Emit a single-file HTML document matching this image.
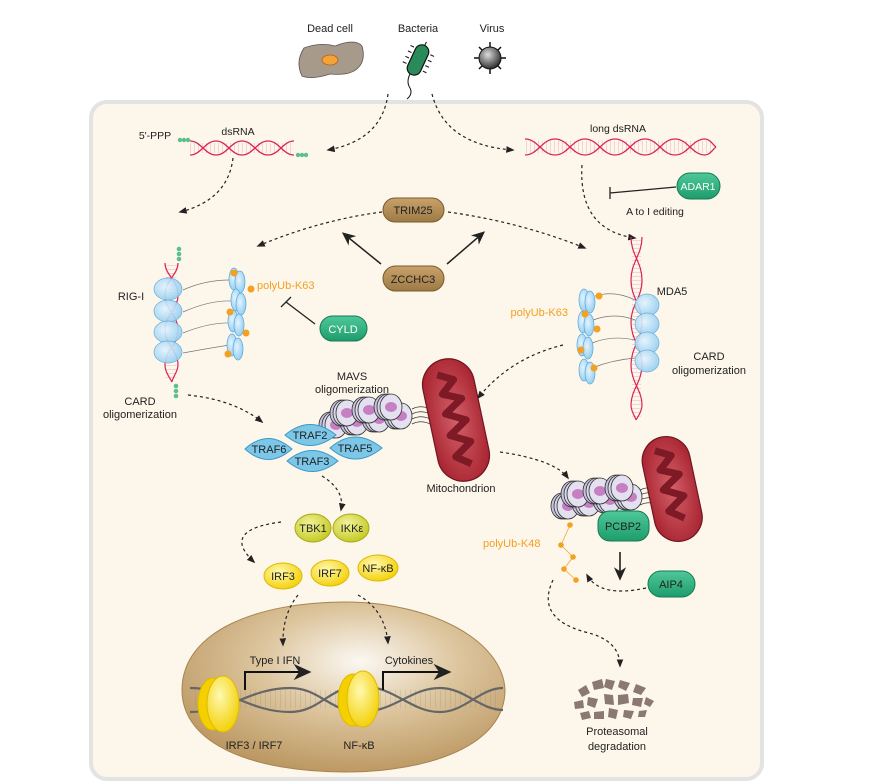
<!DOCTYPE html>
<html><head><meta charset="utf-8"><style>
html,body{margin:0;padding:0;background:#fff}
svg{display:block;font-family:"Liberation Sans",Arial,sans-serif}
</style></head><body>
<svg width="878" height="782" viewBox="0 0 878 782" xmlns="http://www.w3.org/2000/svg">
<defs>
<marker id="ah" viewBox="0 0 10 10" refX="8" refY="5" markerWidth="7" markerHeight="7" orient="auto"><path d="M0,1 L10,5 L0,9 Z" fill="#222"/></marker>
<marker id="ahb" viewBox="0 0 10 10" refX="8" refY="5" markerWidth="9" markerHeight="9" orient="auto"><path d="M0,0.5 L10,5 L0,9.5 L3,5 Z" fill="#222"/></marker>
<radialGradient id="nuc" cx="0.55" cy="0.35" r="0.7"><stop offset="0" stop-color="#fbf8f2"/><stop offset="0.45" stop-color="#dcc49c"/><stop offset="1" stop-color="#b8935c"/></radialGradient>
<radialGradient id="yel" cx="0.4" cy="0.35" r="0.7"><stop offset="0" stop-color="#fff9b0"/><stop offset="1" stop-color="#f2cf00"/></radialGradient>
<radialGradient id="yg" cx="0.4" cy="0.35" r="0.7"><stop offset="0" stop-color="#f0f39a"/><stop offset="1" stop-color="#c3c820"/></radialGradient>
<radialGradient id="blu" cx="0.4" cy="0.4" r="0.7"><stop offset="0" stop-color="#e3f4ff"/><stop offset="1" stop-color="#8ccaf0"/></radialGradient>
<radialGradient id="mit" cx="0.5" cy="0.5" r="0.6"><stop offset="0" stop-color="#d2606a"/><stop offset="1" stop-color="#a8232f"/></radialGradient>
<radialGradient id="vir" cx="0.4" cy="0.35" r="0.7"><stop offset="0" stop-color="#ddd"/><stop offset="1" stop-color="#222"/></radialGradient>
<linearGradient id="brn" x1="0" y1="0" x2="0" y2="1"><stop offset="0" stop-color="#c9a26a"/><stop offset="1" stop-color="#9d7a45"/></linearGradient>
<linearGradient id="grn" x1="0" y1="0" x2="0" y2="1"><stop offset="0" stop-color="#4fc89a"/><stop offset="1" stop-color="#1e9c6c"/></linearGradient>
<g id="disc"><ellipse cx="0" cy="0" rx="11" ry="13" fill="#c8c3dc" stroke="#333" stroke-width="0.8"/><ellipse cx="3" cy="0" rx="11" ry="13" fill="#d8d4ea" stroke="#333" stroke-width="0.8"/><ellipse cx="6" cy="0" rx="11" ry="13" fill="#e3e0f0" stroke="#333" stroke-width="0.8"/><ellipse cx="6" cy="0" rx="6" ry="5" fill="#c77fc4"/></g>
<g id="bo"><ellipse cx="0" cy="0" rx="5" ry="11" fill="url(#blu)" stroke="#5aa8d8" stroke-width="0.7"/></g>
</defs>

<!-- cell -->
<rect x="91" y="102" width="671" height="677" rx="16" fill="#fdf6ea" stroke="#e3e3e3" stroke-width="4"/>

<!-- top pathogens -->
<text x="330" y="32" font-size="11" text-anchor="middle" fill="#222">Dead cell</text>
<text x="418" y="32" font-size="11" text-anchor="middle" fill="#222">Bacteria</text>
<text x="492" y="32" font-size="11" text-anchor="middle" fill="#222">Virus</text>
<path d="M304,48 Q320,42 335,46 Q355,38 362,46 Q366,60 358,68 Q350,76 330,74 Q312,80 302,76 Q295,62 304,48Z" fill="#a89a8a" stroke="#555" stroke-width="0.8"/>
<ellipse cx="330" cy="60" rx="8" ry="5" fill="#f4a23a" stroke="#b06010" stroke-width="0.8"/>
<g transform="rotate(25 418 60)"><rect x="411" y="44" width="14" height="32" rx="7" fill="#2a8a5a" stroke="#111" stroke-width="1.2"/>
<path d="M409,50h-4M409,56h-4M409,62h-4M409,68h-4M427,50h4M427,56h4M427,62h4M427,68h4M418,44v-4" stroke="#111" stroke-width="1"/></g>
<path d="M410,74 Q406,82 410,88 Q413,94 407,99" fill="none" stroke="#111" stroke-width="1"/>
<g stroke="#111" stroke-width="1.5"><path d="M490,42v32M474,58h32M479,47l22,22M501,47l-22,22"/></g>
<circle cx="490" cy="58" r="11" fill="url(#vir)" stroke="#111"/>

<!-- nucleus (drawn early so arrows overlay) -->
<path d="M182,690 C182,630 260,602 345,602 C430,602 503,640 505,690 C505,745 430,772 345,772 C255,772 182,745 182,690Z" fill="url(#nuc)" stroke="#a88450" stroke-width="1"/>

<!-- dashed arrows -->
<g fill="none" stroke="#222" stroke-width="1.2" stroke-dasharray="3,3">
<path d="M388,94 Q382,140 328,150" marker-end="url(#ah)"/>
<path d="M432,94 Q445,145 513,150" marker-end="url(#ah)"/>
<path d="M233,158 Q228,200 180,212" marker-end="url(#ah)"/>
<path d="M582,165 Q578,230 635,238" marker-end="url(#ah)"/>
<path d="M382,212 Q320,220 258,246" marker-end="url(#ah)"/>
<path d="M448,212 Q520,222 585,248" marker-end="url(#ah)"/>
<path d="M563,345 Q510,358 478,398" marker-end="url(#ah)"/>
<path d="M188,395 Q235,400 262,422" marker-end="url(#ah)"/>
<path d="M322,476 Q345,490 341,510" marker-end="url(#ah)"/>
<path d="M281,522 Q220,530 254,562" marker-end="url(#ah)"/>
<path d="M298,595 Q282,615 283,645" marker-end="url(#ah)"/>
<path d="M358,595 Q385,610 388,643" marker-end="url(#ah)"/>
<path d="M500,452 Q555,460 568,478" marker-end="url(#ah)"/>
<path d="M646,588 Q600,598 587,575" marker-end="url(#ah)"/>
<path d="M553,580 Q535,618 585,632 Q620,640 620,666" marker-end="url(#ah)"/>
</g>

<!-- dsRNA short -->
<text x="155" y="139" font-size="10.5" text-anchor="middle" fill="#222">5'-PPP</text>
<text x="238" y="135" font-size="10.5" text-anchor="middle" fill="#222">dsRNA</text>
<g fill="none" stroke="#d8245a" stroke-width="1.3">
<path d="M190,141 C201,141 205,155 216,155 C227,155 231,141 242,141 C253,141 257,155 268,155 C279,155 283,141 294,141"/>
<path d="M190,155 C201,155 205,141 216,141 C227,141 231,155 242,155 C253,155 257,141 268,141 C279,141 283,155 294,155"/>
<line x1="190" y1="148" x2="294" y2="148" stroke-width="10" stroke-dasharray="0.5,3.5" stroke-opacity="0.35"/>
</g>
<g fill="#5cc08a"><circle cx="180" cy="140" r="2.2"/><circle cx="184" cy="140" r="2.2"/><circle cx="188" cy="140" r="2.2"/><circle cx="298" cy="155" r="2.2"/><circle cx="302" cy="155" r="2.2"/><circle cx="306" cy="155" r="2.2"/></g>

<!-- long dsRNA -->
<text x="618" y="132" font-size="10.5" text-anchor="middle" fill="#222">long dsRNA</text>
<g fill="none" stroke="#d8245a" stroke-width="1.3">
<path d="M525,139 C538,139 542,155 555,155 C568,155 572,139 585,139 C598,139 602,155 615,155 C628,155 632,139 645,139 C658,139 662,155 675,155 C688,155 692,139 705,139 C710,139 713,145 716,147"/>
<path d="M525,155 C538,155 542,139 555,139 C568,139 572,155 585,155 C598,155 602,139 615,139 C628,139 632,155 645,155 C658,155 662,139 675,139 C688,139 692,155 705,155 C710,155 713,149 716,147"/>
<line x1="526" y1="147" x2="714" y2="147" stroke-width="12" stroke-dasharray="0.5,3.5" stroke-opacity="0.35"/>
</g>

<!-- ADAR1 -->
<rect x="677" y="173" width="43" height="26" rx="13" fill="url(#grn)" stroke="#137a52"/>
<text x="698" y="190" font-size="10.5" text-anchor="middle" fill="#fff">ADAR1</text>
<path d="M676,187 L610,193 M610,187 V199" stroke="#222" stroke-width="1.3" fill="none"/>
<text x="655" y="215" font-size="10.5" text-anchor="middle" fill="#222">A to I editing</text>

<!-- TRIM25 / ZCCHC3 / CYLD -->
<rect x="383" y="198" width="61" height="24" rx="12" fill="url(#brn)" stroke="#7a5a2a"/>
<text x="413" y="214" font-size="11" text-anchor="middle" fill="#222">TRIM25</text>
<rect x="383" y="266" width="61" height="25" rx="12.5" fill="url(#brn)" stroke="#7a5a2a"/>
<text x="413" y="283" font-size="11" text-anchor="middle" fill="#222">ZCCHC3</text>
<path d="M381,264 L344,234" stroke="#222" stroke-width="1.5" marker-end="url(#ahb)"/>
<path d="M447,264 L483,233" stroke="#222" stroke-width="1.5" marker-end="url(#ahb)"/>
<rect x="320" y="316" width="47" height="25" rx="12.5" fill="url(#grn)" stroke="#137a52"/>
<text x="343" y="333" font-size="11" text-anchor="middle" fill="#fff">CYLD</text>
<path d="M315,324 L286,302 M281,307 L291,297" stroke="#222" stroke-width="1.3"/>

<!-- RIG-I -->
<g fill="#5cc08a"><circle cx="179" cy="249" r="2.3"/><circle cx="179" cy="254" r="2.3"/><circle cx="179" cy="259" r="2.3"/><circle cx="176" cy="386" r="2.3"/><circle cx="176" cy="391" r="2.3"/><circle cx="176" cy="396" r="2.3"/></g>
<g fill="none" stroke="#d8245a" stroke-width="1.2">
<path d="M165,263 C165,275 178,280 178,295 C178,310 165,315 165,330 C165,345 178,350 178,365 C178,372 172,378 172,382"/>
<path d="M178,263 C178,275 165,280 165,295 C165,310 178,315 178,330 C178,345 165,350 165,365 C165,372 170,378 172,382"/>
<line x1="171" y1="265" x2="171" y2="380" stroke-width="11" stroke-dasharray="0.5,3.5" stroke-opacity="0.35"/>
</g>
<g fill="url(#blu)" stroke="#5aa8d8" stroke-width="0.7" opacity="0.9">
<ellipse cx="168" cy="289" rx="14" ry="11"/><ellipse cx="168" cy="311" rx="14" ry="11"/><ellipse cx="168" cy="332" rx="14" ry="11"/><ellipse cx="168" cy="352" rx="14" ry="11"/></g>
<g fill="none" stroke="#777" stroke-width="0.7"><path d="M183,290 Q205,280 230,280"/><path d="M183,312 Q210,300 232,301"/><path d="M183,333 Q210,322 232,323"/><path d="M183,353 Q210,348 230,345"/></g>
<g><use href="#bo" x="234" y="279"/><use href="#bo" x="240" y="282"/><use href="#bo" x="236" y="300"/><use href="#bo" x="241" y="304"/><use href="#bo" x="233" y="321"/><use href="#bo" x="239" y="325"/><use href="#bo" x="232" y="345"/><use href="#bo" x="238" y="349"/></g>
<g fill="#f4a020"><circle cx="234" cy="273" r="3.5"/><circle cx="251" cy="289" r="3.5"/><circle cx="230" cy="312" r="3.5"/><circle cx="246" cy="333" r="3.5"/><circle cx="228" cy="354" r="3.5"/></g>
<text x="131" y="300" font-size="11" text-anchor="middle" fill="#222">RIG-I</text>
<text x="257" y="289" font-size="11" fill="#f4a020">polyUb-K63</text>
<text x="140" y="405" font-size="11" text-anchor="middle" fill="#222">CARD</text>
<text x="140" y="418" font-size="11" text-anchor="middle" fill="#222">oligomerization</text>

<!-- MDA5 -->
<g fill="none" stroke="#d8245a" stroke-width="1.2">
<path d="M631,237 C631,255 642,262 642,280 C642,298 631,305 631,322 C631,340 642,347 642,365 C642,382 631,390 631,405 C631,412 636,418 636,420"/>
<path d="M642,237 C642,255 631,262 631,280 C631,298 642,305 642,322 C642,340 631,347 631,365 C631,382 642,390 642,405 C642,412 637,418 636,420"/>
<line x1="636.5" y1="240" x2="636.5" y2="418" stroke-width="9" stroke-dasharray="0.5,3.5" stroke-opacity="0.35"/>
</g>
<g fill="url(#blu)" stroke="#5aa8d8" stroke-width="0.7" opacity="0.9">
<ellipse cx="647" cy="305" rx="12" ry="11"/><ellipse cx="647" cy="324" rx="12" ry="11"/><ellipse cx="647" cy="343" rx="12" ry="11"/><ellipse cx="647" cy="361" rx="12" ry="11"/></g>
<g fill="none" stroke="#777" stroke-width="0.7"><path d="M595,296 Q615,290 635,300"/><path d="M593,320 Q615,312 635,320"/><path d="M592,343 Q612,335 635,340"/><path d="M592,368 Q612,360 635,358"/></g>
<g><use href="#bo" x="584" y="300"/><use href="#bo" x="590" y="302"/><use href="#bo" x="583" y="322"/><use href="#bo" x="589" y="325"/><use href="#bo" x="582" y="345"/><use href="#bo" x="588" y="348"/><use href="#bo" x="584" y="370"/><use href="#bo" x="590" y="373"/></g>
<g fill="#f4a020"><circle cx="599" cy="296" r="3.5"/><circle cx="585" cy="314" r="3.5"/><circle cx="597" cy="329" r="3.5"/><circle cx="581" cy="350" r="3.5"/><circle cx="594" cy="368" r="3.5"/></g>
<text x="672" y="295" font-size="11" text-anchor="middle" fill="#222">MDA5</text>
<text x="568" y="316" font-size="11" text-anchor="end" fill="#f4a020">polyUb-K63</text>
<text x="709" y="360" font-size="11" text-anchor="middle" fill="#222">CARD</text>
<text x="709" y="374" font-size="11" text-anchor="middle" fill="#222">oligomerization</text>

<!-- MAVS 1 -->
<text x="352" y="380" font-size="11" text-anchor="middle" fill="#222">MAVS</text>
<text x="352" y="393" font-size="11" text-anchor="middle" fill="#222">oligomerization</text>
<g fill="none" stroke="#333" stroke-width="0.7"><path d="M412,409 Q422,404 432,410"/><path d="M412,414 Q422,409 432,415"/><path d="M412,419 Q422,414 432,420"/><path d="M412,424 Q422,419 432,425"/></g>
<use href="#disc" x="330" y="425"/><use href="#disc" x="351" y="422"/><use href="#disc" x="373" y="419"/><use href="#disc" x="395" y="416"/>
<use href="#disc" x="341" y="413"/><use href="#disc" x="363" y="410"/><use href="#disc" x="385" y="407"/>
<g transform="rotate(-12 456 420)"><rect x="430" y="358" width="52" height="124" rx="26" fill="url(#mit)" stroke="#6e1620" stroke-width="1.2"/>
<path d="M447,372 L462,380 L448,392 L466,400 L447,412 L466,422 L447,434 L466,444 L448,456 L462,466" fill="none" stroke="#7e1a26" stroke-width="7" stroke-linejoin="round"/></g>
<text x="461" y="492" font-size="11" text-anchor="middle" fill="#222">Mitochondrion</text>

<!-- TRAF -->
<g fill="#7cc7e8" stroke="#3a98c8" stroke-width="1">
<path d="M245,449 Q268,428 292,449 Q268,470 245,449Z"/>
<path d="M330,448 Q355,426 382,448 Q355,470 330,448Z"/>
<path d="M285,435 Q310,414 336,435 Q310,456 285,435Z"/>
<path d="M287,461 Q312,440 338,461 Q312,482 287,461Z"/>
</g>
<g font-size="11" text-anchor="middle" fill="#222"><text x="310" y="439">TRAF2</text><text x="269" y="453">TRAF6</text><text x="355" y="452">TRAF5</text><text x="312" y="465">TRAF3</text></g>

<!-- TBK1 IKKe -->
<ellipse cx="313" cy="528" rx="18" ry="14" fill="url(#yg)" stroke="#a8a818"/>
<ellipse cx="351" cy="528" rx="18" ry="14" fill="url(#yg)" stroke="#a8a818"/>
<text x="313" y="532" font-size="11" text-anchor="middle" fill="#222">TBK1</text>
<text x="352" y="532" font-size="11" text-anchor="middle" fill="#222">IKKε</text>

<!-- IRFs -->
<ellipse cx="283" cy="576" rx="19" ry="13" fill="url(#yel)" stroke="#e0b800"/>
<ellipse cx="330" cy="573" rx="19" ry="13" fill="url(#yel)" stroke="#e0b800"/>
<ellipse cx="378" cy="568" rx="20" ry="13" fill="url(#yel)" stroke="#e0b800"/>
<g font-size="11" text-anchor="middle" fill="#222"><text x="283" y="580">IRF3</text><text x="330" y="577">IRF7</text><text x="378" y="572">NF-κB</text></g>

<!-- nucleus contents -->
<line x1="195" y1="699" x2="500" y2="699" stroke="#777" stroke-width="18" stroke-dasharray="0.5,4.5" stroke-opacity="0.35"/>
<g fill="none" stroke="#666" stroke-width="2.2">
<path d="M190,688 C230,688 250,712 290,712 C320,712 330,686 360,686 C395,686 410,712 440,712 C465,712 480,688 503,688"/>
<path d="M190,712 C230,712 250,688 290,688 C320,688 330,712 360,712 C395,712 410,688 440,688 C465,688 480,710 503,710"/>
</g>
<g stroke="#e0b800" stroke-width="1"><ellipse cx="213" cy="704" rx="15" ry="26" fill="#f5d000"/><ellipse cx="223" cy="704" rx="16" ry="28" fill="url(#yel)"/>
<ellipse cx="353" cy="700" rx="15" ry="26" fill="#f5d000"/><ellipse cx="363" cy="699" rx="16" ry="28" fill="url(#yel)"/></g>
<path d="M245,690 V672 H308" fill="none" stroke="#111" stroke-width="2" marker-end="url(#ahb)"/>
<path d="M383,690 V672 H448" fill="none" stroke="#111" stroke-width="2" marker-end="url(#ahb)"/>
<text x="275" y="664" font-size="11" text-anchor="middle" fill="#222">Type I IFN</text>
<text x="409" y="664" font-size="11" text-anchor="middle" fill="#222">Cytokines</text>
<text x="254" y="749" font-size="11" text-anchor="middle" fill="#222">IRF3 / IRF7</text>
<text x="359" y="749" font-size="11" text-anchor="middle" fill="#222">NF-κB</text>

<!-- right MAVS 2 -->
<g fill="none" stroke="#333" stroke-width="0.7"><path d="M640,490 Q650,485 662,491"/><path d="M640,495 Q650,490 662,496"/><path d="M640,500 Q650,495 662,501"/><path d="M640,505 Q650,500 662,506"/></g>
<use href="#disc" x="562" y="506"/><use href="#disc" x="583" y="503"/><use href="#disc" x="604" y="500"/><use href="#disc" x="625" y="497"/>
<use href="#disc" x="572" y="494"/><use href="#disc" x="594" y="491"/><use href="#disc" x="616" y="488"/>
<g transform="rotate(-12 672 488)"><rect x="648" y="436" width="48" height="106" rx="24" fill="url(#mit)" stroke="#6e1620" stroke-width="1.2"/>
<path d="M663,448 L678,456 L664,468 L682,476 L663,488 L682,498 L664,510 L678,520" fill="none" stroke="#7e1a26" stroke-width="7" stroke-linejoin="round"/></g>
<rect x="598" y="511" width="51" height="30" rx="12" fill="url(#grn)" stroke="#137a52"/>
<text x="623" y="530" font-size="11" text-anchor="middle" fill="#222">PCBP2</text>
<path d="M570,525 L561,545 L573,557 L564,569 L576,580" fill="none" stroke="#f4a020" stroke-width="0.7"/>
<g fill="#f4a020"><circle cx="570" cy="525" r="2.8"/><circle cx="561" cy="545" r="2.8"/><circle cx="573" cy="557" r="2.8"/><circle cx="564" cy="569" r="2.8"/><circle cx="576" cy="580" r="2.8"/></g>
<text x="483" y="547" font-size="11" fill="#f4a020">polyUb-K48</text>
<path d="M620,552 V578" stroke="#111" stroke-width="1.5" marker-end="url(#ahb)"/>
<rect x="648" y="571" width="47" height="26" rx="13" fill="url(#grn)" stroke="#137a52"/>
<text x="671" y="588" font-size="11" text-anchor="middle" fill="#222">AIP4</text>

<!-- proteasome debris -->
<g fill="#8a7872">
<path d="M578,690l8,-5l4,8l-8,4z"/><path d="M592,682l10,-3l2,9l-10,2z"/><path d="M606,679l9,2l-3,9l-8,-3z"/><path d="M620,680l10,3l-4,8l-8,-4z"/><path d="M636,684l10,4l-5,7l-8,-3z"/>
<path d="M574,702l9,-2l1,8l-9,1z"/><path d="M588,697l10,2l-3,9l-8,-3z"/><path d="M604,694l9,1l1,10l-9,-1z"/><path d="M618,695l10,-1l1,9l-11,2z"/><path d="M633,698l10,0l-2,9l-9,-2z"/><path d="M646,697l8,4l-4,6l-6,-3z"/>
<path d="M580,713l9,-2l2,7l-9,2z"/><path d="M594,712l10,-1l0,8l-10,0z"/><path d="M609,708l9,2l-2,9l-8,-2z"/><path d="M624,710l10,1l-3,8l-8,-2z"/><path d="M639,711l8,-1l-2,7l-7,0z"/>
</g>
<text x="617" y="735" font-size="11" text-anchor="middle" fill="#222">Proteasomal</text>
<text x="617" y="750" font-size="11" text-anchor="middle" fill="#222">degradation</text>
</svg>
</body></html>
